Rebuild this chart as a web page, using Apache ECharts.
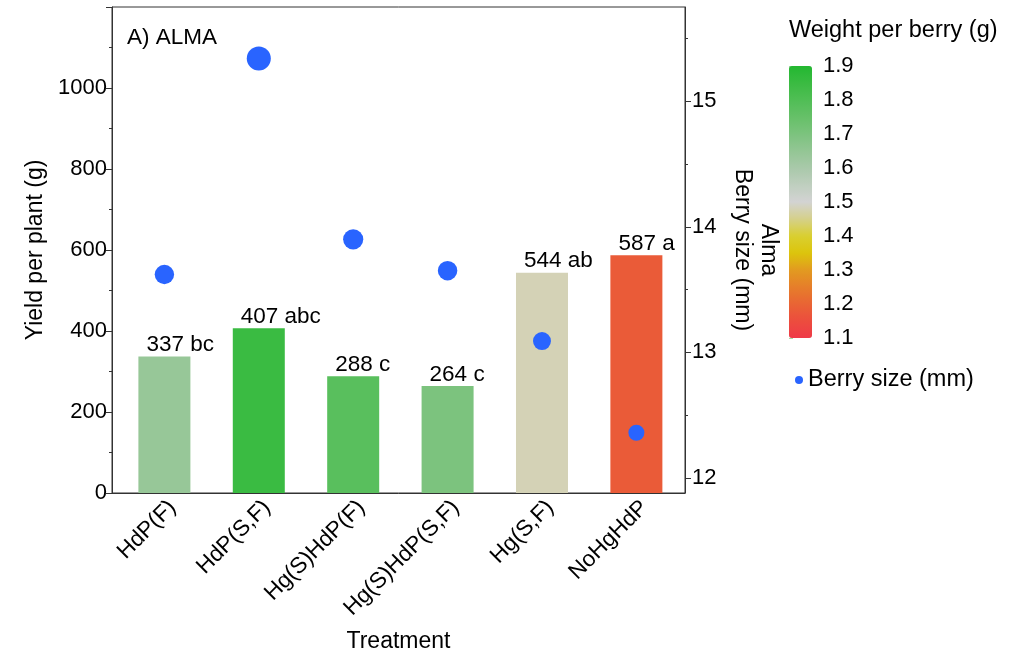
<!DOCTYPE html>
<html>
<head>
<meta charset="utf-8">
<title>ALMA yield, berry size and weight per berry</title>
<script src="https://cdn.jsdelivr.net/npm/echarts@6/dist/echarts.min.js"></script>
<style>
  html, body { margin: 0; padding: 0; background: #fff; }
  #chart { width: 1030px; height: 658px; }
</style>
</head>
<body>
<div id="chart"></div>
<script>
// Treatments on the x axis
const categories = ['HdP(F)', 'HdP(S,F)', 'Hg(S)HdP(F)', 'Hg(S)HdP(S,F)', 'Hg(S,F)', 'NoHgHdP'];
// Yield per plant (g), left axis bars
const yieldPerPlant = [337, 407, 288, 264, 544, 587];
// Significance letters printed after each yield value
const sigLetters = ['bc', 'abc', 'c', 'c', 'ab', 'a'];
// Berry size (mm), right axis points
const berrySize = [13.62, 15.34, 13.90, 13.65, 13.09, 12.36];
// Weight per berry (g), drives the bar colour
const berryWeight = [1.64, 1.85, 1.78, 1.70, 1.48, 1.18];
// Tick labels
const yieldTicks = [0, 200, 400, 600, 800, 1000];
const sizeTicks = [12, 13, 14, 15];
const sizeMinorTicks = [12.5, 13.5, 14.5, 15.5];
const weightTicks = [1.1, 1.2, 1.3, 1.4, 1.5, 1.6, 1.7, 1.8, 1.9];

const FONT = 'Liberation Sans, Arial, sans-serif';
const AXIS = '#333333';

const positions = categories.map((c, i) => i + 1);
const barData = positions.map((x, i) => [x, yieldPerPlant[i], berryWeight[i]]);
const dotData = positions.map((x, i) => [x, berrySize[i]]);

const chart = echarts.init(document.getElementById('chart'), null, { renderer: 'canvas' });

chart.setOption({
  animation: false,
  backgroundColor: '#ffffff',
  textStyle: { fontFamily: FONT, color: '#000' },
  title: {
    text: 'Weight per berry (g)',
    left: 789,
    top: 19,
    padding: 0,
    textStyle: { fontFamily: FONT, fontSize: 23.5, fontWeight: 'normal', color: '#000' }
  },
  graphic: [{
    type: 'text',
    left: 127,
    top: 26,
    style: { text: 'A) ALMA', fontFamily: FONT, fontSize: 22.5, fill: '#000' }
  }],
  legend: {
    data: ['Berry size (mm)'],
    left: 795,
    top: 368,
    padding: 0,
    icon: 'circle',
    itemWidth: 8,
    itemHeight: 8,
    itemGap: 8,
    textStyle: { fontFamily: FONT, fontSize: 23.5, color: '#000' }
  },
  visualMap: {
    type: 'continuous',
    min: 1.1,
    max: 1.9,
    dimension: 2,
    seriesIndex: 0,
    calculable: false,
    text: null,
    orient: 'vertical',
    left: 789,
    top: 66,
    padding: 0,
    itemWidth: 23,
    itemHeight: 272,
    inRange: {
      color: ['#ef3a48', '#ec4d3e', '#e96434', '#e67e2a', '#e29a20', '#dcc50c', '#d9cf30',
              '#d5d08a', '#d3d3d3', '#bfcfbf', '#a9c9aa', '#93c694', '#7cc37e', '#66c068',
              '#50be55', '#3abb42', '#23b830']
    }
  },
  grid: [
    { left: 112, top: 7, width: 573, height: 492, show: true, borderColor: AXIS, borderWidth: 1, backgroundColor: 'transparent' },
    { left: 789, top: 66, width: 23, height: 272 }
  ],
  xAxis: [
    {
      gridIndex: 0,
      type: 'value',
      min: 0.445,
      max: 6.515,
      axisLine: { show: true, lineStyle: { color: AXIS, width: 1 } },
      axisTick: { show: false },
      splitLine: { show: false },
      axisLabel: {
        customValues: positions,
        rotate: 45,
        margin: 3,
        verticalAlign: 'top',
        fontSize: 22.5,
        color: '#000',
        formatter: v => categories[Math.round(v) - 1]
      },
      name: 'Treatment',
      nameLocation: 'middle',
      nameGap: 137,
      nameTextStyle: { fontSize: 23, color: '#000' }
    },
    { gridIndex: 1, type: 'value', show: false }
  ],
  yAxis: [
    {
      gridIndex: 0,
      type: 'value',
      position: 'left',
      min: 0,
      max: 1200,
      interval: 200,
      axisLine: { show: true, lineStyle: { color: AXIS, width: 1 } },
      axisTick: { show: true, length: 6, lineStyle: { color: AXIS } },
      minorTick: { show: true, splitNumber: 2, length: 3, lineStyle: { color: AXIS } },
      splitLine: { show: false },
      minorSplitLine: { show: false },
      axisLabel: {
        margin: 5,
        fontSize: 22,
        color: '#000',
        showMaxLabel: false,
        formatter: v => (yieldTicks.indexOf(v) >= 0 ? String(v) : '')
      },
      name: 'Yield per plant (g)',
      nameLocation: 'middle',
      nameGap: 63,
      nameTextStyle: { fontSize: 23, color: '#000' }
    },
    {
      gridIndex: 0,
      type: 'value',
      position: 'right',
      min: 11.88,
      max: 15.75,
      axisLine: { show: true, lineStyle: { color: AXIS, width: 1 } },
      axisTick: { show: true, length: 6, customValues: sizeTicks, lineStyle: { color: AXIS } },
      splitLine: { show: false },
      axisLabel: { customValues: sizeTicks, margin: 7, fontSize: 22, color: '#000' },
      name: 'Alma\nBerry size (mm)',
      nameLocation: 'middle',
      nameRotate: -90,
      nameGap: 44,
      nameTextStyle: { fontSize: 23, color: '#000', lineHeight: 26 }
    },
    {
      gridIndex: 0,
      type: 'value',
      position: 'right',
      min: 11.88,
      max: 15.75,
      axisLine: { show: false },
      axisTick: { show: true, length: 3, customValues: sizeMinorTicks, lineStyle: { color: AXIS } },
      splitLine: { show: false },
      axisLabel: { show: false }
    },
    {
      gridIndex: 1,
      type: 'value',
      position: 'right',
      min: 1.1,
      max: 1.9,
      interval: 0.1,
      axisLine: { show: false },
      axisTick: { show: true, length: 4, lineStyle: { color: '#a8d8a8' } },
      splitLine: { show: false },
      axisLabel: {
        margin: 11,
        fontSize: 22,
        color: '#000',
        formatter: v => weightTicks.find(t => Math.abs(t - v) < 1e-6).toFixed(1)
      }
    }
  ],
  series: [
    {
      name: 'Yield per plant (g)',
      type: 'bar',
      xAxisIndex: 0,
      yAxisIndex: 0,
      barWidth: 52,
      data: barData,
      encode: { x: 0, y: 1 },
      label: {
        show: true,
        position: 'top',
        distance: 0,
        align: 'left',
        offset: [-18, 0],
        fontSize: 22.5,
        color: '#000',
        formatter: p => p.value[1] + ' ' + sigLetters[p.dataIndex]
      },
      z: 2
    },
    {
      name: 'Berry size (mm)',
      type: 'scatter',
      xAxisIndex: 0,
      yAxisIndex: 1,
      data: dotData,
      symbol: 'circle',
      symbolSize: d => 16 + (d[1] - 12.36) * 2.7,
      itemStyle: { color: '#2964ff', opacity: 1 },
      z: 3
    }
  ]
});
</script>
</body>
</html>
